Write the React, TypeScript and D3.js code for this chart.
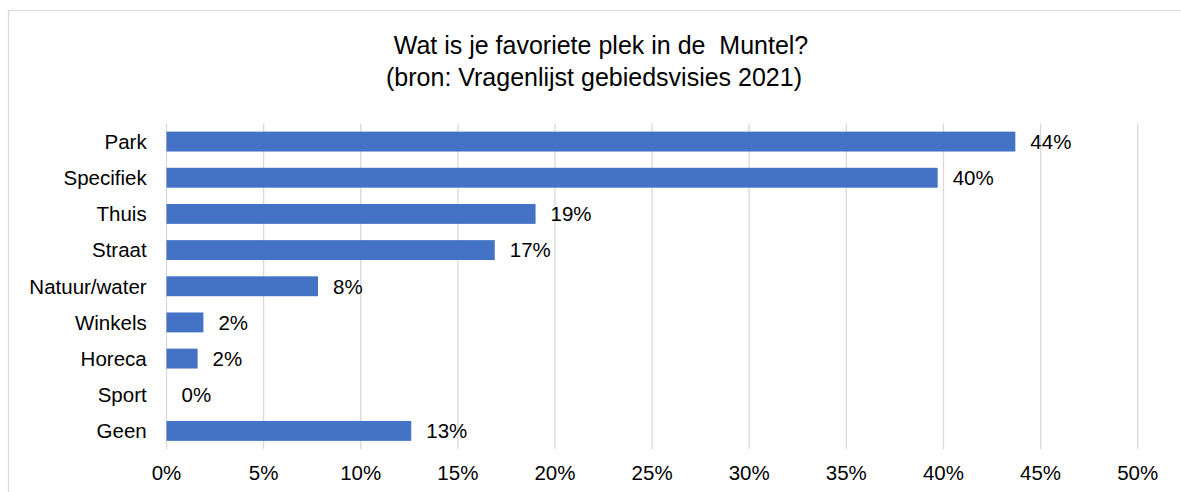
import React from "react";
import * as d3 from "d3";

const categories = ["Park", "Specifiek", "Thuis", "Straat", "Natuur/water", "Winkels", "Horeca", "Sport", "Geen"];
const values = [0.437, 0.397, 0.19, 0.169, 0.078, 0.019, 0.016, 0, 0.126];
const tickValues = [0, 0.05, 0.1, 0.15, 0.2, 0.25, 0.3, 0.35, 0.4, 0.45, 0.5];
const titleLines = ["Wat is je favoriete plek in de  Muntel?", "(bron: Vragenlijst gebiedsvisies 2021)"];

const W = 1181;
const H = 492;
const FONT = "'Liberation Sans', Arial, sans-serif";

export default function App() {
  const x = d3.scaleLinear().domain([0, 0.5]).range([166.5, 1137.7]);
  const y = d3.scaleBand<string>().domain(categories).range([123.5, 449]).paddingInner(0.45).paddingOuter(0.225);
  const fmt = d3.format(".0%");
  const [top, bottom] = [123.5, 449];
  const titleX = [601, 594];

  return (
    <svg width={W} height={H} style={{ position: "absolute", left: 0, top: 0, background: "#fff" }} fontFamily={FONT}>
      <rect x={8.5} y={10.5} width={1300} height={600} fill="#fff" stroke="#d9d9d9" strokeWidth={1.2} />
      {titleLines.map((t, i) => (
        <text key={t} x={titleX[i]} y={53.5 + i * 32} textAnchor="middle" fontSize={25} fill="#000" style={{ whiteSpace: "pre" }}>
          {t}
        </text>
      ))}
      {tickValues.map((v) => (
        <g key={v}>
          <line x1={x(v)} x2={x(v)} y1={top} y2={bottom} stroke="#d9d9d9" strokeWidth={1.3} />
          <text x={x(v)} y={480} textAnchor="middle" fontSize={20.5} fill="#000">
            {fmt(v)}
          </text>
        </g>
      ))}
      {categories.map((c, i) => {
        const yy = y(c)!;
        const bw = y.bandwidth();
        return (
          <g key={c}>
            {values[i] > 0 && (
              <rect x={x(0)} y={yy} width={x(values[i]) - x(0)} height={bw} fill="#4472C4" />
            )}
            <text x={146.7} y={yy + bw / 2 + 7.3} textAnchor="end" fontSize={20.5} fill="#000">
              {c}
            </text>
            <text x={x(values[i]) + 15} y={yy + bw / 2 + 7.3} textAnchor="start" fontSize={20.5} fill="#000">
              {fmt(Math.round(values[i] * 100) / 100)}
            </text>
          </g>
        );
      })}
    </svg>
  );
}
